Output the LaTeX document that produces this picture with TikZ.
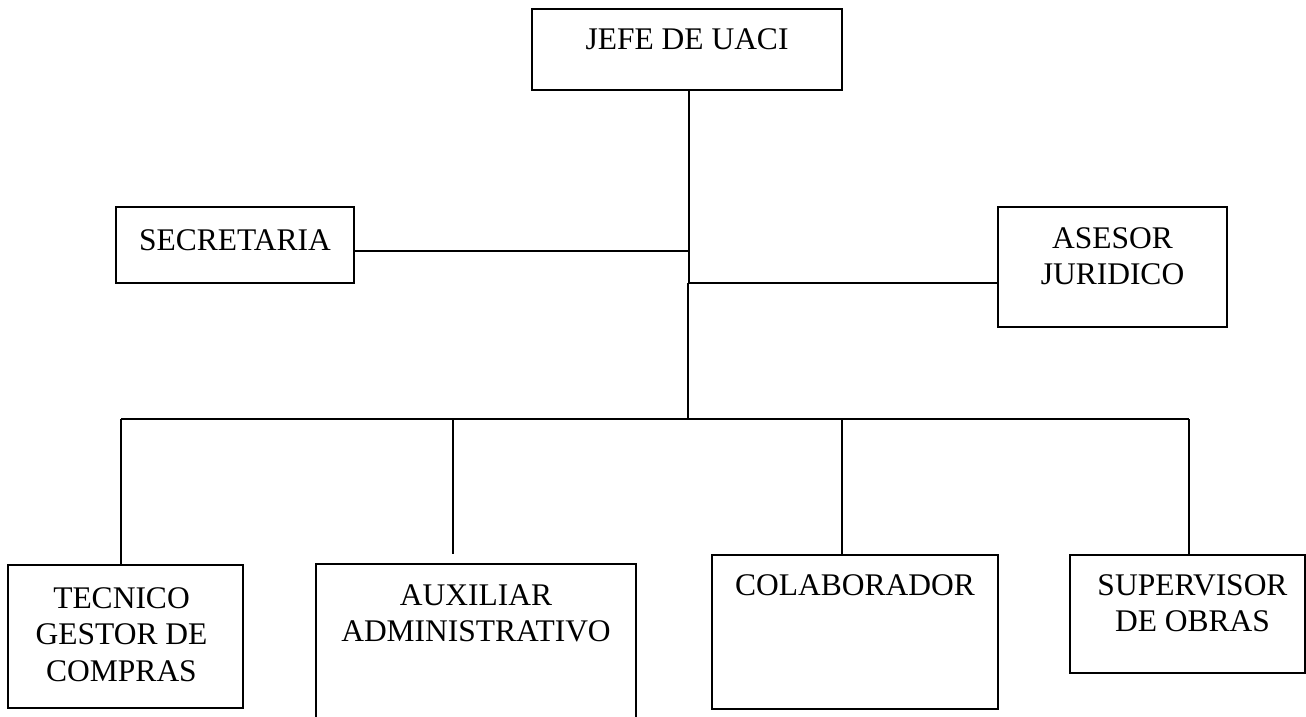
\documentclass[tikz,border=0pt]{standalone}
\usepackage{fontspec}
\setmainfont{Liberation Serif}
\begin{document}
\begin{tikzpicture}[x=1pt,y=-1pt,
  box/.style={draw, line width=1.3pt, rectangle, inner sep=0pt, outer sep=0pt},
  lbl/.style={anchor=base, align=center, inner sep=0pt, font=\fontsize{31.5}{36.5}\selectfont},
  wire/.style={line width=2pt}]
\useasboundingbox (0,0) rectangle (1306,717);
\begin{scope}
\clip (0,0) rectangle (1306,717);
% boxes
\node[box, minimum width=310pt, minimum height=81pt]  (jefe) at (687,49.5) {};
\node[box, minimum width=238pt, minimum height=76pt]  (sec)  at (235,245) {};
\node[box, minimum width=229pt, minimum height=120pt] (ase)  at (1112.5,267) {};
\node[box, minimum width=235pt, minimum height=143pt] (tec)  at (125.5,636.5) {};
\node[box, minimum width=320pt, minimum height=200pt] (aux)  at (476,664) {};
\node[box, minimum width=286pt, minimum height=154pt] (col)  at (855,632) {};
\node[box, minimum width=235pt, minimum height=118pt] (sup)  at (1187.5,614) {};
% labels (base anchor sits on the last line of each label)
\node[lbl] (tjefe) at ([yshift=-41pt]jefe.north) {JEFE DE UACI};
\node[lbl] (tsec)  at ([yshift=-43pt]sec.north)  {SECRETARIA};
\node[lbl] (tase)  at ([yshift=-77.5pt]ase.north)  {ASESOR\\JURIDICO};
\node[lbl] (ttec)  at ([xshift=-4pt,yshift=-116pt]tec.north)  {TECNICO\\GESTOR DE\\COMPRAS};
\node[lbl] (taux)  at ([yshift=-77.5pt]aux.north)  {AUXILIAR\\ADMINISTRATIVO};
\node[lbl] (tcol)  at ([yshift=-40pt]col.north)  {COLABORADOR};
\node[lbl] (tsup)  at ([xshift=5pt,yshift=-76.5pt]sup.north)  {SUPERVISOR\\DE OBRAS};
% junction points
\coordinate (j1) at (689,251);
\coordinate (j2) at (689,283);
\coordinate (j3) at (688,419);
\coordinate (bl) at (121,419);
\coordinate (d2) at (453,419);
\coordinate (d3) at (842,419);
\coordinate (br) at (1189,419);
% connectors
\draw[line width=2.6pt] ([xshift=-27pt]jefe.south) -- ([xshift=25pt]jefe.south);
\draw[wire] (jefe.south -| j1) -- (j2);
\draw[wire] (j1) -- (j1 -| sec.east);
\draw[wire] (j2) -- (j2 -| ase.west);
\draw[wire] (j2 -| j3) -- (j3);
\draw[wire] (bl) -- (br);
\draw[wire] (bl) -- (bl |- tec.north);
\draw[wire] (d2) -- ([yshift=10pt]d2 |- aux.north);
\draw[wire] (d3) -- (d3 |- col.north);
\draw[wire] (br) -- (br |- sup.north);
\end{scope}
\end{tikzpicture}
\end{document}
